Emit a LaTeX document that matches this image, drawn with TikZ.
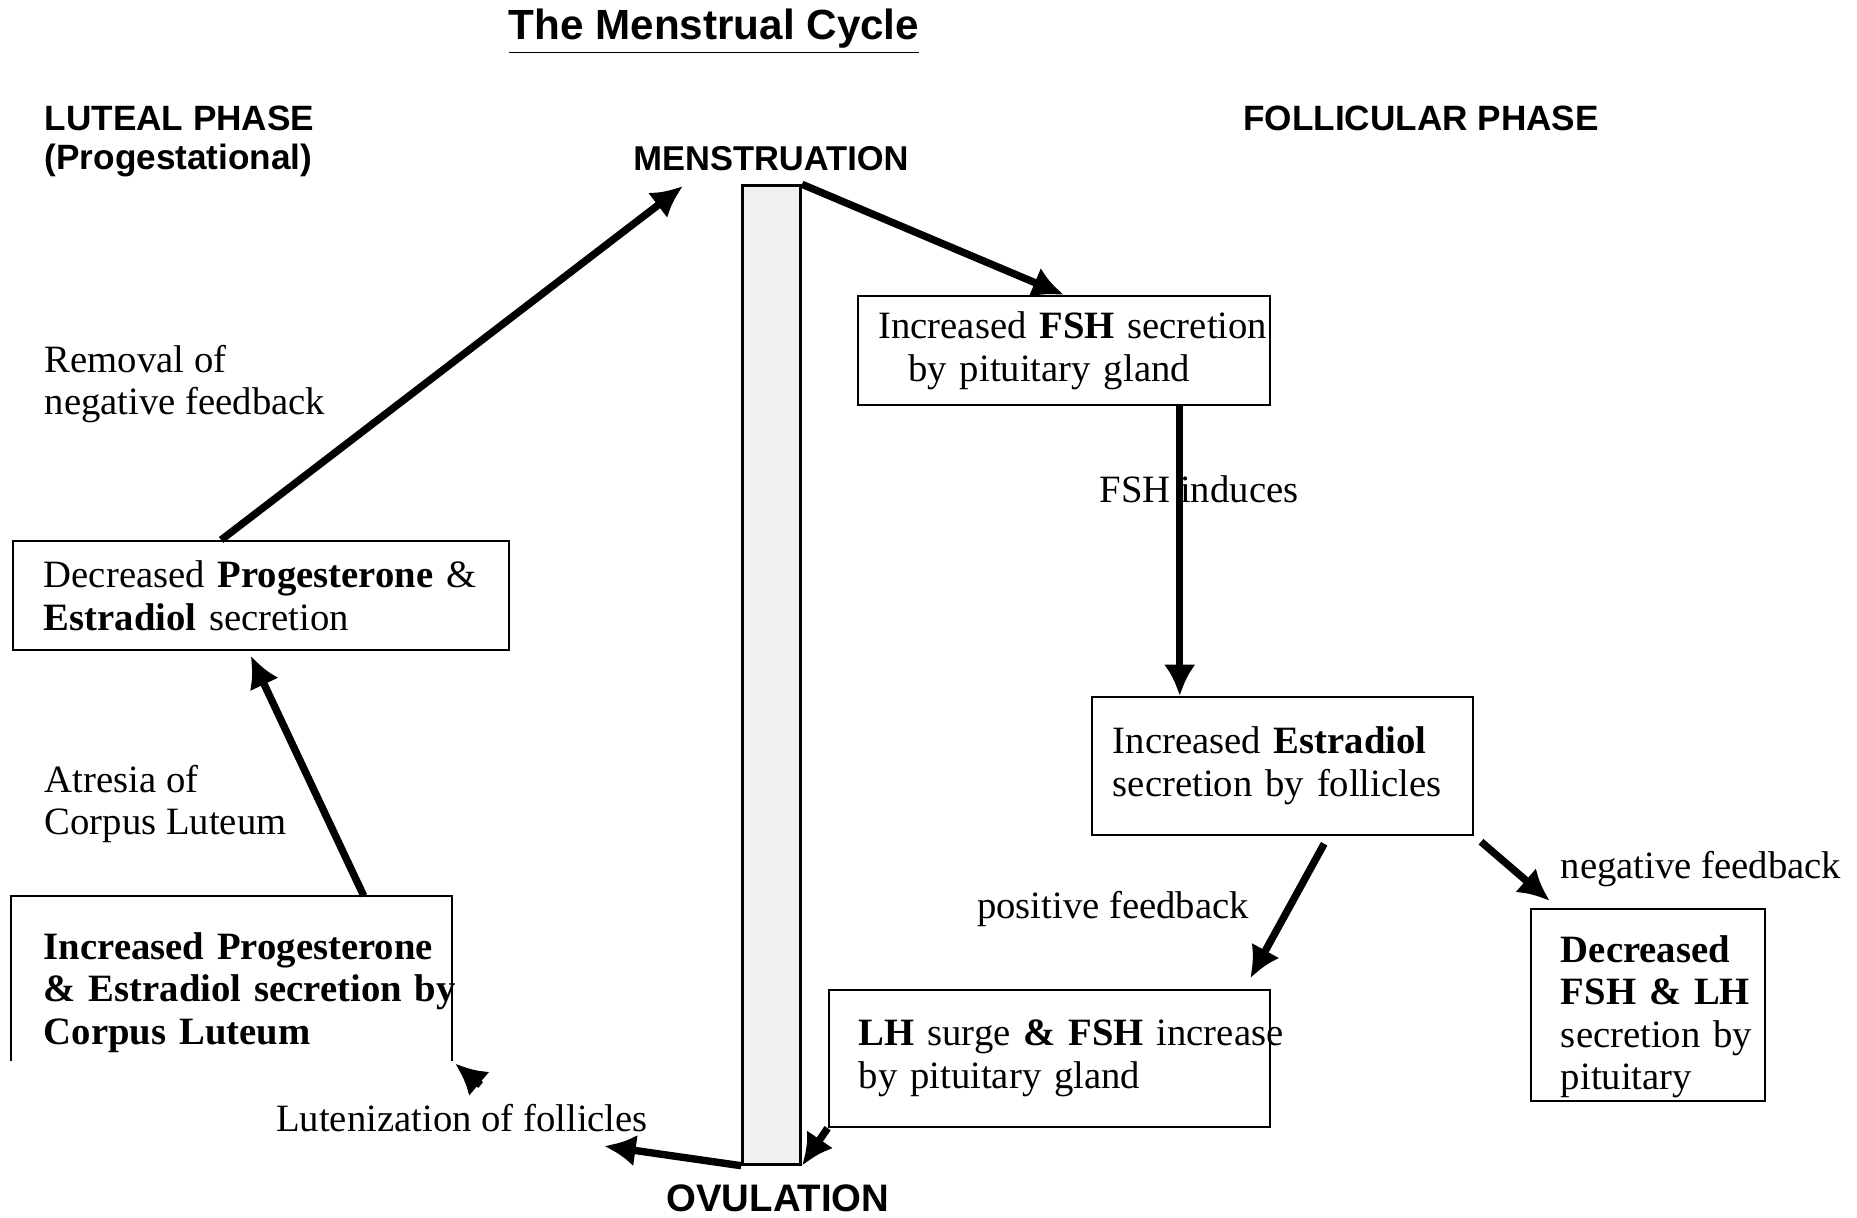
\documentclass[tikz,border=0pt]{standalone}
\usepackage{fontspec}
\setmainfont{Liberation Serif}
\newfontfamily\headfont{Liberation Sans}
\usetikzlibrary{arrows.meta,calc}

\begin{document}
\begin{tikzpicture}[
    x=0.01cm,
    y=-0.01cm,
    every node/.style={inner sep=0pt},
    bodytext/.style={font=\fontsize{11}{12.1}\selectfont},
    heading/.style={font=\headfont\bfseries\fontsize{10}{12}\selectfont},
    box/.style={
        bodytext,
        draw,
        line width=0.6pt,
        align=left,
        },
    flow/.style={
        line width=2.1pt,
        -{Latex[length=9pt,width=9pt]},
        },
    ]

% Page
\path[use as bounding box, fill=white] (0,0) rectangle (1857,1217);

% Title and phase names
\node[font=\headfont\bfseries\fontsize{12}{14}\selectfont, anchor=base] (title) at (714,39) {\underline{The Menstrual Cycle}};
\node[heading, anchor=base west] (luteal) at (44,130) {LUTEAL PHASE};
\node[heading, anchor=base west] (progest) at (44,169) {(Progestational)};
\node[heading, anchor=base] (follic) at (1421,130) {FOLLICULAR PHASE};
\node[font=\headfont\bfseries\fontsize{9.8}{12}\selectfont, anchor=base] (mens) at (771,170) {MENSTRUATION};
\node[font=\headfont\bfseries\fontsize{10.9}{12}\selectfont, anchor=base] (ovul) at (778,1211) {OVULATION};

% Middle bar
\node[
    draw,
    line width=0.8pt,
    fill=gray!12,
    minimum width=0.58cm,
    minimum height=9.78cm,
    ] (bar) at (771.6,675) {};

% Follicular boxes
\node[box, text width=3.71cm, minimum width=4.11cm, minimum height=1.09cm] (fsh) at (1064,350.5)
    {\mbox{Increased \textbf{FSH} secretion}\\\hspace*{0.3cm}by pituitary gland};
\node[box, text width=3.39cm, minimum width=3.81cm, minimum height=1.375cm] (estr) at (1282.5,766)
    {Increased \textbf{Estradiol}\\secretion by follicles};
\node[box, text width=3.81cm, minimum width=4.41cm, minimum height=1.37cm] (lh) at (1049.3,1058.5)
    {\mbox{\textbf{LH} surge \textbf{\& FSH} increase}\\by pituitary gland};
\node[box, text width=1.74cm, minimum width=2.34cm, minimum height=1.915cm] (dfsh) at (1648,1005)
    {\rule{0pt}{0.5cm}\textbf{Decreased}\\\mbox{\textbf{FSH \& LH}}\\\mbox{secretion by}\\pituitary};

% Luteal boxes
\node[box, text width=4.34cm, minimum width=4.96cm, minimum height=1.09cm] (dp) at (261,595.5)
    {Decreased \textbf{Progesterone} \&\\\textbf{Estradiol} secretion};
\node[bodytext, align=left, text width=3.75cm, minimum width=4.39cm, minimum height=1.92cm] (ip) at (231.5,992.5)
    {\mbox{\textbf{Increased Progesterone}}\\\mbox{\textbf{\& Estradiol secretion by}}\\\textbf{Corpus Luteum}};
\draw[line width=0.6pt] ([yshift=0.285cm]ip.south west) |- (ip.north) -| ([yshift=0.285cm]ip.south east);
\coordinate (ipcorner) at ([yshift=0.285cm]ip.south east);

% Arrow labels
\node[bodytext, anchor=west, align=left] (removal) at (44,384) {Removal of\\negative feedback};
\node[bodytext, anchor=west, align=left] (atresia) at (44,804) {Atresia of\\Corpus Luteum};
\node[bodytext, anchor=base] (induces) at (1199,502) {FSH induces};
\node[bodytext, anchor=base] (posfb) at (1113,918) {positive feedback};
\node[bodytext, anchor=base] (negfb) at (1701,878) {negative feedback};
\node[bodytext, anchor=base] (lut) at (462,1131) {Lutenization of follicles};

% Free arrow ends
\coordinate (mensend) at (683,186);
\coordinate (lutend) at (604,1146);

% Follicular arrows
\draw[flow] (bar.north east) -- (fsh.north);
\draw[flow] ($(fsh.south west)!0.78!(fsh.south east)$) coordinate (fshfoot) -- (fshfoot |- estr.north);
\draw[flow, shorten <=0.09cm, shorten >=0.12cm]
    ($(estr.south west)!0.62!(estr.south east)$) -- ($(lh.north west)!0.94!(lh.north east)$);
\draw[flow, shorten <=0.09cm, shorten >=0.11cm]
    (estr.south east) -- ($(dfsh.north west)!0.12!(dfsh.north east)$);
\draw[flow] (lh.south west) -- (bar.south east);

% Luteal arrows
\draw[flow] (bar.south west) -- (lutend);
\draw[flow, shorten >=0.04cm] ($(lut.north west)!0.55!(lut.north east)+(0,-18)$) -- (ipcorner);
\draw[flow, shorten >=0.05cm] ($(ip.north west)!0.8!(ip.north east)$) -- ($(dp.south west)!0.475!(dp.south east)$);
\draw[flow] ($(dp.north west)!0.42!(dp.north east)$) -- (mensend);

\end{tikzpicture}
\end{document}
